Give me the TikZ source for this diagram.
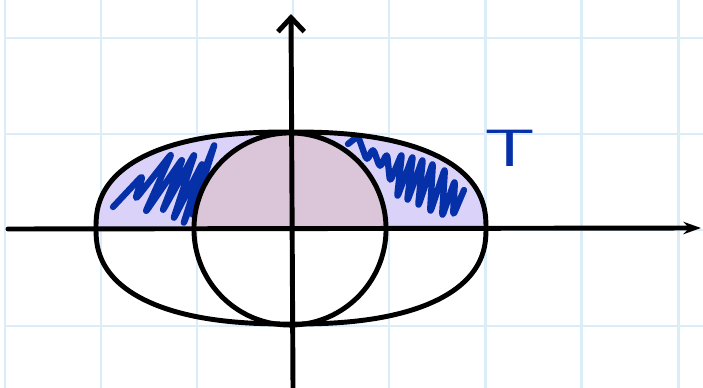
\documentclass[tikz,border=0pt]{standalone}
\usetikzlibrary{arrows.meta}
\definecolor{gridblue}{RGB}{220,237,250}
\definecolor{lavfill}{RGB}{218,210,248}
\definecolor{pinkfill}{RGB}{219,197,216}
\definecolor{scribbleblue}{RGB}{6,48,168}
\begin{document}
\begin{tikzpicture}[x=0.01cm,y=-0.01cm,
  gridline/.style={draw=gridblue,line width=0.85pt},
  outline/.style={draw=black,line width=1.4pt,line cap=round,line join=round},
  scribble/.style={draw=scribbleblue,line width=1.8pt,line cap=round,line join=round,rounded corners=1.2pt},
  label/.style={text=scribbleblue,font=\sffamily\fontsize{15}{15}\selectfont,inner sep=0pt}]
\useasboundingbox (0,0) rectangle (703,388);
\fill[white] (0,0) rectangle (703,388);
% grid
\foreach \gx in {5,101,197,293,389,485,581,678}
  \draw[gridline] (\gx,0) -- (\gx,388);
\foreach \gy in {38,134,230,326}
  \draw[gridline] (5,\gy) -- (703,\gy);
% coordinates
\coordinate (O) at (291,228);
\coordinate (C) at (290,229);
\coordinate (xl) at (8,229);
\coordinate (xr) at (701,228);
\coordinate (yb) at (293,388);
\coordinate (yt) at (291,14);
\def\bigoval{plot[domain=1.5:361.5,samples=121,smooth] ({291+195*sign(cos(\x))*abs(cos(\x))^(0.83)},{228-96*sign(sin(\x))*abs(sin(\x))^(0.83)})}
% fills (upper halves)
\begin{scope}
  \clip (0,0) rectangle (703,228);
  \fill[lavfill] \bigoval -- cycle;
  \fill[pinkfill] (C) circle [radius=0.96cm];
\end{scope}
% scribbles
\draw[scribble] (113,207) -- (143,175) -- (135,200) -- (172,153) -- (145,213) -- (183,158) -- (162,212) -- (195,153) -- (173,220) -- (203,162) -- (183,225) -- (215,143) -- (192,217) -- (196,203);
\draw[scribble] (348,144) -- (358,136) -- (367,161) -- (373,148) -- (380,168) -- (387,153) -- (390,182) -- (402,153) -- (397,198) -- (413,155) -- (407,202) -- (423,158) -- (418,207) -- (433,162) -- (430,213) -- (445,168) -- (442,217) -- (455,180) -- (453,216) -- (464,190);
% outlines
\draw[outline] \bigoval -- cycle;
\draw[outline] (C) circle [radius=0.96cm];
% axes
\draw[outline,-{Stealth[length=5pt,width=3.5pt]}] (xl) -- (xr);
\draw[outline,-{Straight Barb[length=4pt,width=7.5pt]}] (yb) -- (yt);
% label
\node[label,xscale=1.45] (T) at (510,148) {T};
\end{tikzpicture}
\end{document}
